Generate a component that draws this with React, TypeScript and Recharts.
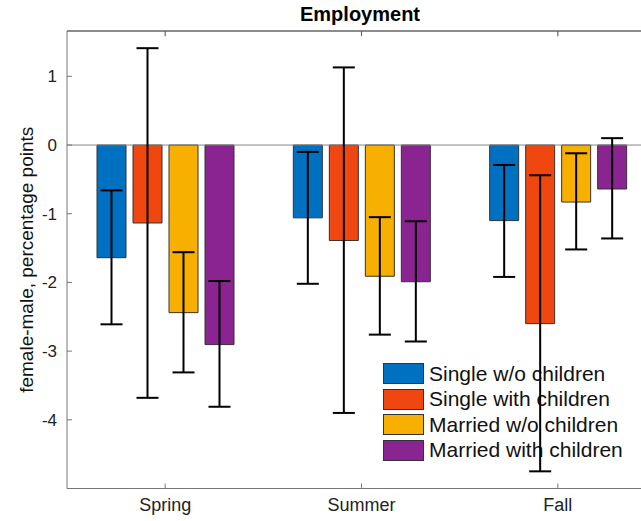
import { BarChart, Bar, XAxis, YAxis, ErrorBar, ReferenceLine, Legend } from 'recharts';

const categories = ['Spring', 'Summer', 'Fall'];
const seriesNames = ['Single w/o children', 'Single with children', 'Married w/o children', 'Married with children'];
const seriesColors = ['#0070C0', '#F0460F', '#F8B000', '#8A2490'];

// bar heights (female-male, pp)
const singleNoKids = [-1.64, -1.06, -1.1];
const singleKids = [-1.135, -1.39, -2.6];
const marriedNoKids = [-2.44, -1.91, -0.83];
const marriedKids = [-2.905, -1.99, -0.64];

// confidence bands, low and high ends
const singleNoKidsLo = [-2.61, -2.02, -1.92];
const singleNoKidsHi = [-0.66, -0.1, -0.29];
const singleKidsLo = [-3.68, -3.9, -4.75];
const singleKidsHi = [1.41, 1.13, -0.44];
const marriedNoKidsLo = [-3.31, -2.76, -1.52];
const marriedNoKidsHi = [-1.56, -1.05, -0.12];
const marriedKidsLo = [-3.81, -2.86, -1.36];
const marriedKidsHi = [-1.98, -1.11, 0.1];

const yTicks = [-4, -3, -2, -1, 0, 1];
const yMin = -5;
const yMax = 1.66;

const values = [singleNoKids, singleKids, marriedNoKids, marriedKids];
const lows = [singleNoKidsLo, singleKidsLo, marriedNoKidsLo, marriedKidsLo];
const highs = [singleNoKidsHi, singleKidsHi, marriedNoKidsHi, marriedKidsHi];

const data = categories.map((name, i) => {
  const row: Record<string, any> = { name };
  values.forEach((vals, s) => {
    row[`s${s}`] = vals[i];
    row[`e${s}`] = [vals[i] - lows[s][i], highs[s][i] - vals[i]];
  });
  return row;
});

const font = '"Liberation Sans", Arial, Helvetica, sans-serif';

const LegendBox = () => (
  <div style={{ fontFamily: font }}>
    {seriesNames.map((n, i) => (
      <div key={n} style={{ display: 'flex', alignItems: 'center', height: 25.5 }}>
        <div style={{ width: 39, height: 19, background: seriesColors[i], border: '1px solid #333', marginRight: 5 }} />
        <span style={{ fontSize: 21, color: '#111', whiteSpace: 'nowrap' }}>{n}</span>
      </div>
    ))}
  </div>
);

export default function App() {
  return (
    <div style={{ position: 'fixed', left: 0, top: 0, width: 641, height: 521, overflow: 'hidden', background: '#fff' }}>
      <div style={{ position: 'absolute', zIndex: -1, left: 0, top: 3, width: 720, textAlign: 'center', fontFamily: font, fontWeight: 'bold', fontSize: 20, color: '#000' }}>
        Employment
      </div>
      <BarChart
        width={700}
        height={521}
        data={data}
        margin={{ top: 31, right: 44, left: 0, bottom: 0 }}
        barSize={29}
        barGap={7}
        style={{ fontFamily: font }}
      >
        <XAxis
          dataKey="name"
          height={32.5}
          stroke="#777"
          tickSize={-5}
          tickMargin={15}
          tick={{ fill: '#222', fontSize: 18 }}
        />
        <YAxis
          width={67}
          domain={[yMin, yMax]}
          ticks={yTicks}
          stroke="#777"
          tickSize={-5}
          tickMargin={15}
          tick={{ fill: '#222', fontSize: 17 }}
          label={{
            value: 'female-male, percentage points',
            angle: -90,
            position: 'insideLeft',
            offset: 26,
            style: { textAnchor: 'middle', fill: '#111', fontSize: 19 },
          }}
        />
        {/* top frame line with inward ticks */}
        <ReferenceLine y={yMax} stroke="#666" strokeWidth={1.6} ifOverflow="visible" />
        {categories.map((c) => (
          <ReferenceLine
            key={c}
            segment={[{ x: c, y: yMax }, { x: c, y: yMax - 0.075 }]}
            stroke="#666"
            strokeWidth={1.2}
            ifOverflow="visible"
          />
        ))}
        <ReferenceLine y={0} stroke="#888" />
        <Legend
          layout="vertical"
          align="center"
          verticalAlign="middle"
          wrapperStyle={{ left: 383, top: 361, width: 270, zIndex: -1 }}
          content={() => <LegendBox />}
        />
        {seriesNames.map((n, s) => (
          <Bar key={n} dataKey={`s${s}`} name={n} fill={seriesColors[s]} stroke="#333" strokeWidth={1} isAnimationActive={false}>
            <ErrorBar dataKey={`e${s}`} width={11} stroke="#000" strokeWidth={2} />
          </Bar>
        ))}
      </BarChart>
    </div>
  );
}
